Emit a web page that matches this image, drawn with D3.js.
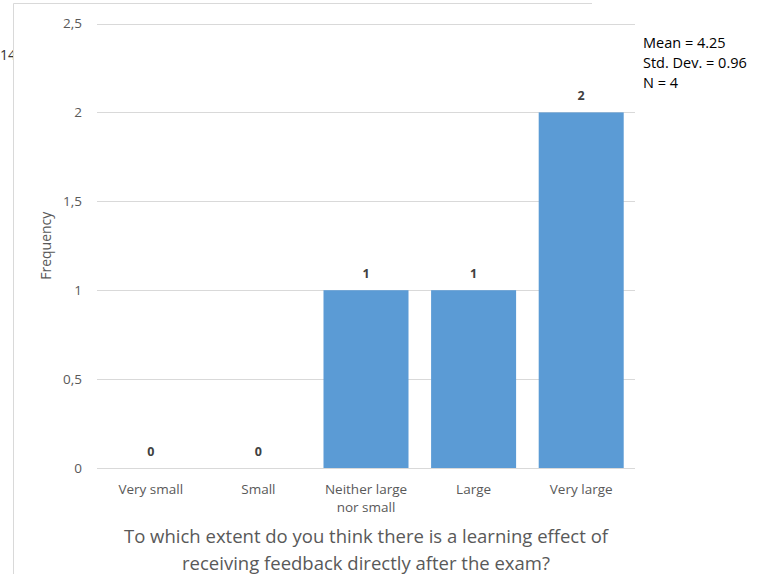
<!DOCTYPE html>
<html>
<head>
<meta charset="utf-8">
<script src="https://cdn.jsdelivr.net/npm/d3@7"></script>
<style>
  body { margin: 0; background: #fff; }
  svg { display: block; font-family: "Open Sans", "Liberation Sans", Arial, sans-serif; }
</style>
</head>
<body>
<div id="chart"></div>
<script>
/* DATA */
const categories = ["Very small", "Small", "Neither large nor small", "Large", "Very large"];
const categoryLines = [["Very small"], ["Small"], ["Neither large", "nor small"], ["Large"], ["Very large"]];
const frequencies = [0, 0, 1, 1, 2];
const yTicks = [0, 0.5, 1, 1.5, 2, 2.5];
const statsLines = ["Mean = 4.25", "Std. Dev. = 0.96", "N = 4"];
const titleLines = ["To which extent do you think there is a learning effect of", "receiving feedback directly after the exam?"];

/* CONSTANTS */
const width = 757,
  height = 574,
  plot = { left: 97, right: 635, top: 23.5, bottom: 468 };

const svg = d3.select("#chart")
  .append("svg")
  .attr("width", width)
  .attr("height", height);

// stray cut-off text at left edge
svg.append("text")
  .attr("x", 0)
  .attr("y", 60)
  .attr("font-size", 14)
  .attr("fill", "#333")
  .text("14");

// frame
svg.append("rect")
  .attr("x", 13.5)
  .attr("y", 3.5)
  .attr("width", 800)
  .attr("height", 600)
  .attr("fill", "#fff")
  .attr("stroke", "none");
svg.append("line")
  .attr("x1", 13.5).attr("x2", 13.5)
  .attr("y1", 3.5).attr("y2", height)
  .attr("stroke", "#d9d9d9");
svg.append("line")
  .attr("x1", 13.5).attr("x2", 592)
  .attr("y1", 3.5).attr("y2", 3.5)
  .attr("stroke", "#d9d9d9");

/* SCALES */
const xScale = d3.scaleBand()
  .domain(categories)
  .range([plot.left, plot.right])
  .paddingInner(0.21)
  .paddingOuter(0.105);

const yScale = d3.scaleLinear()
  .domain([0, 2.5])
  .range([plot.bottom, plot.top]);

// gridlines
svg.append("g")
  .selectAll("line")
  .data(yTicks.filter(d => d > 0))
  .join("line")
  .attr("x1", plot.left)
  .attr("x2", plot.right)
  .attr("y1", d => Math.round(yScale(d)) + 0.5)
  .attr("y2", d => Math.round(yScale(d)) + 0.5)
  .attr("stroke", "#d9d9d9");

// y axis labels
const fmt = d => String(d).replace(".", ",");
svg.append("g")
  .selectAll("text")
  .data(yTicks)
  .join("text")
  .attr("x", 82)
  .attr("y", d => yScale(d))
  .attr("dy", "0.35em")
  .attr("text-anchor", "end")
  .attr("font-size", 13.5)
  .attr("fill", "#595959")
  .text(fmt);

// bars
svg.append("g")
  .selectAll("rect")
  .data(frequencies)
  .join("rect")
  .attr("x", (d, i) => xScale(categories[i]))
  .attr("y", d => yScale(d))
  .attr("width", xScale.bandwidth())
  .attr("height", d => yScale(0) - yScale(d))
  .attr("fill", "#5b9bd5");

// x axis line
svg.append("line")
  .attr("x1", plot.left)
  .attr("x2", plot.right)
  .attr("y1", plot.bottom + 0.5)
  .attr("y2", plot.bottom + 0.5)
  .attr("stroke", "#d9d9d9");

// value labels
svg.append("g")
  .selectAll("text")
  .data(frequencies)
  .join("text")
  .attr("x", (d, i) => xScale(categories[i]) + xScale.bandwidth() / 2)
  .attr("y", d => yScale(d) - 12)
  .attr("text-anchor", "middle")
  .attr("font-size", 12.5)
  .attr("font-weight", "bold")
  .attr("fill", "#404040")
  .text(d => d);

// category labels
const catGroups = svg.append("g")
  .selectAll("text")
  .data(categoryLines)
  .join("text")
  .attr("x", (d, i) => xScale(categories[i]) + xScale.bandwidth() / 2)
  .attr("y", 494)
  .attr("text-anchor", "middle")
  .attr("font-size", 13.5)
  .attr("fill", "#595959");
catGroups.selectAll("tspan")
  .data(d => d)
  .join("tspan")
  .attr("x", function () { return d3.select(this.parentNode).attr("x"); })
  .attr("dy", (d, i) => i === 0 ? 0 : 18)
  .text(d => d);

// y axis title
svg.append("text")
  .attr("transform", `translate(51, ${(plot.top + plot.bottom) / 2}) rotate(-90)`)
  .attr("text-anchor", "middle")
  .attr("font-size", 14)
  .attr("fill", "#595959")
  .text("Frequency");

// x axis title
svg.append("g")
  .selectAll("text")
  .data(titleLines)
  .join("text")
  .attr("x", 366)
  .attr("y", (d, i) => 543 + i * 27)
  .attr("text-anchor", "middle")
  .attr("font-size", 18.5)
  .attr("fill", "#595959")
  .text(d => d);

// stats
svg.append("g")
  .selectAll("text")
  .data(statsLines)
  .join("text")
  .attr("x", 643)
  .attr("y", (d, i) => 48 + i * 20)
  .attr("font-size", 14.5)
  .attr("fill", "#000")
  .text(d => d);
</script>
</body>
</html>
